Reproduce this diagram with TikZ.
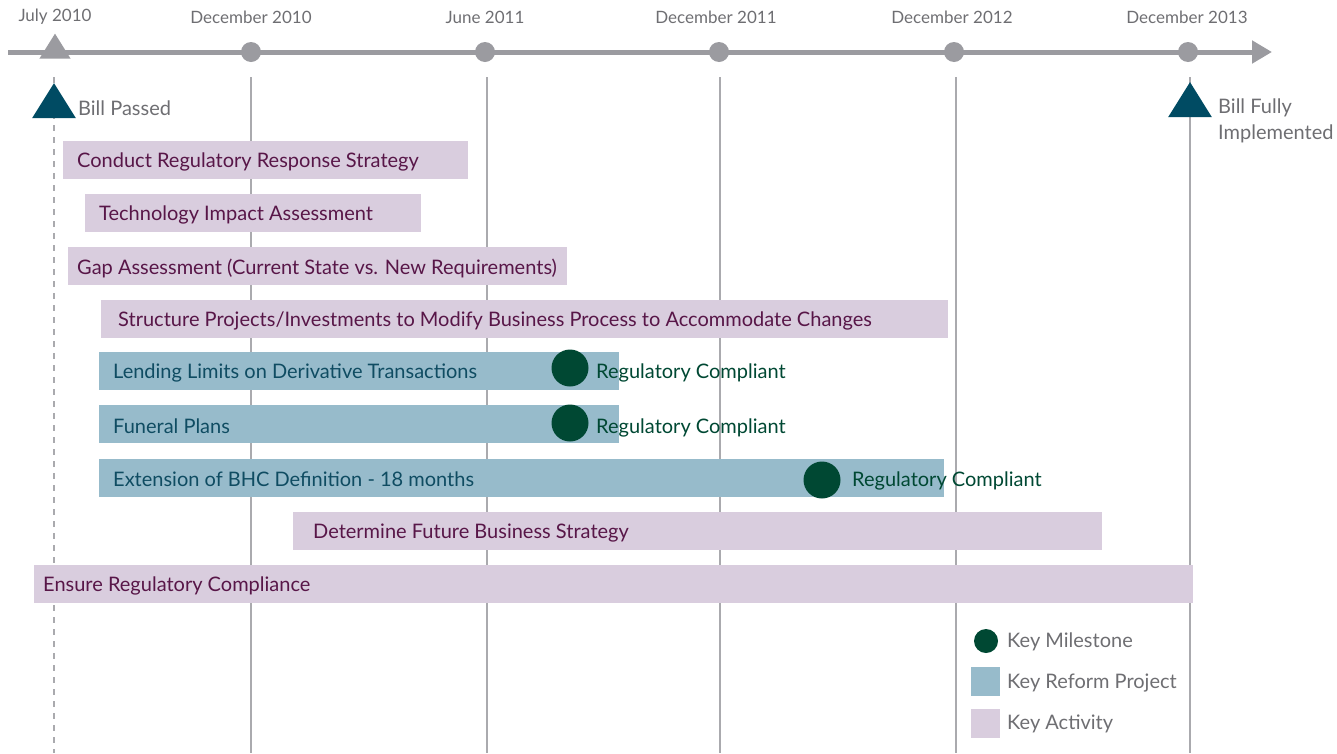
\documentclass[tikz,border=0pt]{standalone}
\usepackage{fontspec}
\setmainfont{Lato}
\usetikzlibrary{calc,shapes.geometric,arrows.meta}
\definecolor{axisgray}{RGB}{155,155,160}
\definecolor{labgray}{RGB}{110,110,114}
\definecolor{vgray}{RGB}{170,170,174}
\definecolor{tealtri}{RGB}{0,75,99}
\definecolor{actfill}{RGB}{217,205,222}
\definecolor{acttxt}{RGB}{88,22,72}
\definecolor{projfill}{RGB}{151,187,203}
\definecolor{projtxt}{RGB}{15,76,98}
\definecolor{mgreen}{RGB}{0,72,51}
\begin{document}
\begin{tikzpicture}[x=1pt,y=-1pt,
  datelab/.style={text=labgray,font=\fontsize{17}{20}\selectfont,inner sep=0pt},
  tick/.style={circle,fill=axisgray,minimum size=20pt,inner sep=0pt},
  vline/.style={draw=vgray,line width=1.3pt},
  actbar/.style={fill=actfill,inner sep=0pt,anchor=north west,minimum height=38pt},
  projbar/.style={fill=projfill,inner sep=0pt,anchor=north west,minimum height=38pt},
  acttext/.style={text=acttxt,font=\fontsize{20}{24}\selectfont,anchor=west,inner sep=0pt},
  projtext/.style={text=projtxt,font=\fontsize{20}{24}\selectfont,anchor=west,inner sep=0pt},
  mile/.style={circle,fill=mgreen,minimum size=37pt,inner sep=0pt},
  miletext/.style={text=mgreen,font=\fontsize{20}{24}\selectfont,anchor=west,inner sep=0pt},
  bigtri/.style={isosceles triangle,isosceles triangle apex angle=64,shape border rotate=90,fill=tealtri,minimum height=35pt,inner sep=0pt},
  graytext/.style={text=labgray,font=\fontsize{20}{26}\selectfont,anchor=west,inner sep=0pt,align=left},
  legtext/.style={text=labgray,font=\fontsize{20}{24}\selectfont,anchor=west,inner sep=0pt},
]
\useasboundingbox (0,0) rectangle (1337,753);
% vertical lines
\draw[vgray,line width=1.3pt,dash pattern=on 6pt off 6pt] (54,77) -- (54,753);
\foreach \x in {251,487,720,956,1190} \draw[vline] (\x,77) -- (\x,753);
% axis
\coordinate (axL) at (8,52);
\coordinate (axR) at (1272,52);
\draw[axisgray,line width=5pt,-{Triangle[length=20pt,width=22pt]}] (axL) -- (axR);
\node[isosceles triangle,isosceles triangle apex angle=64,shape border rotate=90,fill=axisgray,minimum height=25pt,inner sep=0pt] (t0) at (55,50) {};
\node[tick] (t1) at (251,52) {};
\node[tick] (t2) at (485,52) {};
\node[tick] (t3) at (719,52) {};
\node[tick] (t4) at (954,52) {};
\node[tick] (t5) at (1188,52) {};
\node[datelab] (d0) at (55,17) {July 2010};
\node[datelab] (d1) at (251,17) {December 2010};
\node[datelab] (d2) at (485,17) {June 2011};
\node[datelab] (d3) at (716,17) {December 2011};
\node[datelab] (d4) at (952,17) {December 2012};
\node[datelab] (d5) at (1187,17) {December 2013};
% bill triangles
\node[bigtri] (bp) at (54,106) {};
\node[graytext] (bpt) at (78,108) {Bill Passed};
\node[bigtri] (bf) at (1190,105) {};
\node[graytext] (bft) at (1218,121) {Bill Fully\\Implemented};
% bars
\node[actbar,minimum width=405pt] (b1) at (63,141) {};
\node[acttext] at ($(b1.west)+(14,2)$) {Conduct Regulatory Response Strategy};
\node[actbar,minimum width=336pt] (b2) at (85,194) {};
\node[acttext] at ($(b2.west)+(14,2)$) {Technology Impact Assessment};
\node[actbar,minimum width=499pt] (b3) at (68,247) {};
\node[acttext] at ($(b3.west)+(9,2)$) {Gap Assessment (Current State vs. New Requirements)};
\node[actbar,minimum width=847pt] (b4) at (101,300) {};
\node[acttext] at ($(b4.west)+(17,2)$) {Structure Projects/Investments to Modify Business Process to Accommodate Changes};
\node[projbar,minimum width=520pt] (b5) at (99,352) {};
\node[projtext] at ($(b5.west)+(14,2)$) {Lending Limits on Derivative Transactions};
\node[projbar,minimum width=520pt] (b6) at (99,405) {};
\node[projtext] at ($(b6.west)+(14,2)$) {Funeral Plans};
\node[projbar,minimum width=845pt] (b7) at (99,459) {};
\node[projtext] at ($(b7.west)+(14,1)$) {Extension of BHC Definition - 18 months};
\node[actbar,minimum width=809pt] (b8) at (293,512) {};
\node[acttext] at ($(b8.west)+(20,2)$) {Determine Future Business Strategy};
\node[actbar,minimum width=1159pt] (b9) at (34,565) {};
\node[acttext] at ($(b9.west)+(9,2)$) {Ensure Regulatory Compliance};
% milestones
\node[mile] (m1) at (570,368) {};
\node[miletext] at (596,373) {Regulatory Compliant};
\node[mile] (m2) at (570,423) {};
\node[miletext] at (596,428) {Regulatory Compliant};
\node[mile] (m3) at (822,480) {};
\node[miletext] at (852,481) {Regulatory Compliant};
% legend
\node[circle,fill=mgreen,minimum size=24pt,inner sep=0pt] (lg1) at (986,641) {};
\node[legtext] at (1007,642) {Key Milestone};
\node[fill=projfill,minimum size=29pt,inner sep=0pt] (lg2) at (985.5,681.5) {};
\node[legtext] at (1007,683) {Key Reform Project};
\node[fill=actfill,minimum size=29pt,inner sep=0pt] (lg3) at (985.5,723.5) {};
\node[legtext] at (1007,724) {Key Activity};
\end{tikzpicture}
\end{document}
